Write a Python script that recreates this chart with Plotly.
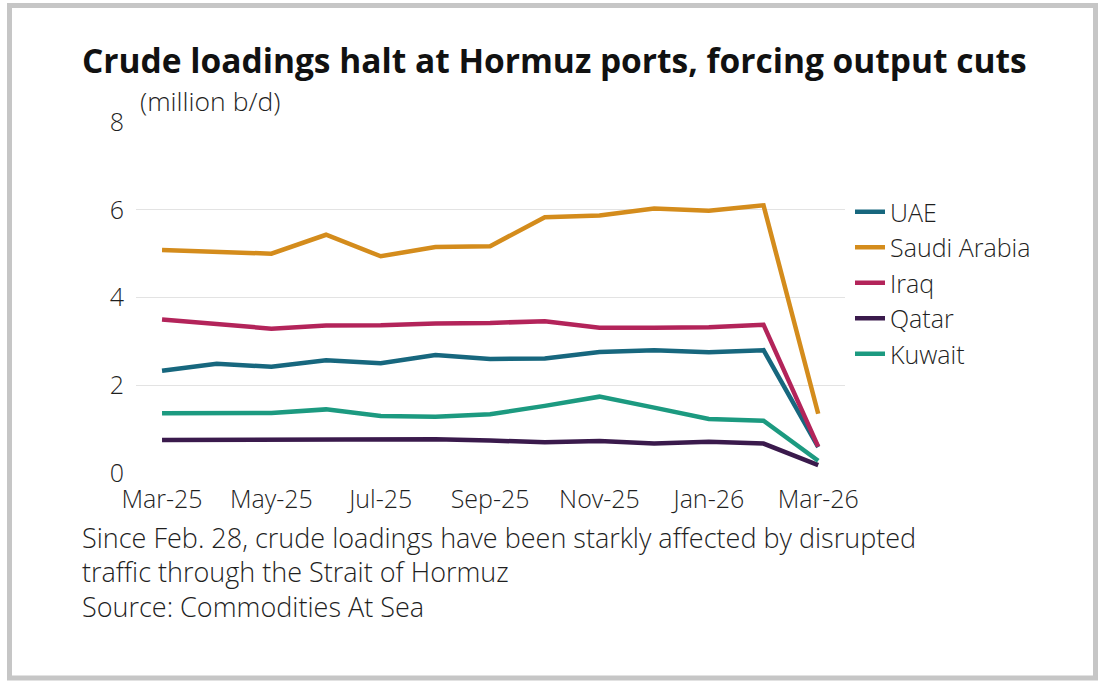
import plotly.graph_objects as go

months = ["Mar-25", "Apr-25", "May-25", "Jun-25", "Jul-25", "Aug-25", "Sep-25",
          "Oct-25", "Nov-25", "Dec-25", "Jan-26", "Feb-26", "Mar-26"]
tick_labels = ["Mar-25", "May-25", "Jul-25", "Sep-25", "Nov-25", "Jan-26", "Mar-26"]

uae = [2.33, 2.49, 2.42, 2.57, 2.50, 2.69, 2.60, 2.61, 2.76, 2.80, 2.75, 2.80, 0.59]
saudi = [5.08, 5.05, 5.00, 5.43, 4.94, 5.15, 5.17, 5.83, 5.87, 6.03, 5.98, 6.10, 1.35]
iraq = [3.50, 3.39, 3.29, 3.36, 3.37, 3.41, 3.42, 3.46, 3.31, 3.31, 3.32, 3.38, 0.60]
qatar = [0.75, 0.75, 0.76, 0.77, 0.77, 0.77, 0.74, 0.70, 0.73, 0.67, 0.71, 0.67, 0.18]
kuwait = [1.36, 1.36, 1.37, 1.45, 1.30, 1.28, 1.34, 1.53, 1.74, 1.49, 1.23, 1.19, 0.28]

series = [
    ("UAE", uae, "#17677e"),
    ("Saudi Arabia", saudi, "#d48c1c"),
    ("Iraq", iraq, "#b3245a"),
    ("Qatar", qatar, "#3a1a4c"),
    ("Kuwait", kuwait, "#1c9a80"),
]

note_lines = [
    "Since Feb. 28, crude loadings have been starkly affected by disrupted",
    "traffic through the Strait of Hormuz",
    "Source: Commodities At Sea",
]

FONT = "Open Sans"
W, H = 1112, 694
L, R, T, B = 136, 845, 122, 473

x_idx = list(range(len(months)))

fig = go.Figure()
for name, vals, col in series:
    fig.add_trace(go.Scatter(
        x=x_idx, y=vals, name=name, mode="lines",
        line=dict(color=col, width=4.5),
        hovertext=months,
    ))

def px(xp):
    return (xp - L) / (R - L)

def py(yp):
    return (B - yp) / (B - T)

light = dict(family=FONT, color="#1f1f1f", weight=300)

annotations = [
    dict(text="<b>Crude loadings halt at Hormuz ports, forcing output cuts</b>",
         xref="paper", yref="paper", x=px(80), y=py(60), xanchor="left", yanchor="middle",
         showarrow=False, font=dict(family=FONT, size=33.5, color="#111111")),
    dict(text="(million b/d)",
         xref="paper", yref="paper", x=px(138), y=py(101), xanchor="left", yanchor="middle",
         showarrow=False, font=dict(size=26.5, **light)),
]
for i, line in enumerate(note_lines):
    annotations.append(dict(
        text=line, xref="paper", yref="paper", x=px(80), y=py(537 + 34.5 * i),
        xanchor="left", yanchor="middle", align="left", showarrow=False,
        font=dict(size=27, **light)))

fig.update_layout(
    width=W, height=H,
    margin=dict(l=L, r=W - R, t=T, b=H - B),
    paper_bgcolor="white", plot_bgcolor="white",
    font=dict(family=FONT, color="#1f1f1f"),
    showlegend=True,
    legend=dict(
        x=px(850), y=py(189), xanchor="left", yanchor="top",
        font=dict(size=25, **light),
        bgcolor="rgba(0,0,0,0)", itemwidth=30, tracegroupgap=0,
    ),
    xaxis=dict(
        range=[-0.476, 12.49],
        tickvals=[0, 2, 4, 6, 8, 10, 12],
        ticktext=tick_labels,
        showgrid=False, zeroline=False, showline=False,
        tickfont=dict(size=25, **light),
        ticks="outside", ticklen=4, tickcolor="rgba(0,0,0,0)",
        fixedrange=True,
    ),
    yaxis=dict(
        range=[0, 8], tickvals=[0, 2, 4, 6, 8],
        showgrid=True, gridcolor="#e3e3e3", gridwidth=1,
        zeroline=False, showline=False,
        tickfont=dict(size=25, **light),
        ticks="outside", ticklen=6, tickcolor="rgba(0,0,0,0)",
        fixedrange=True,
    ),
    shapes=[
        dict(type="rect", xref="paper", yref="paper",
             x0=px(9.5), x1=px(1095.5), y0=py(5.5), y1=py(678),
             line=dict(color="#c6c6c6", width=5), fillcolor="rgba(0,0,0,0)",
             layer="below"),
    ],
    annotations=annotations,
)

fig.write_html("out.html")
